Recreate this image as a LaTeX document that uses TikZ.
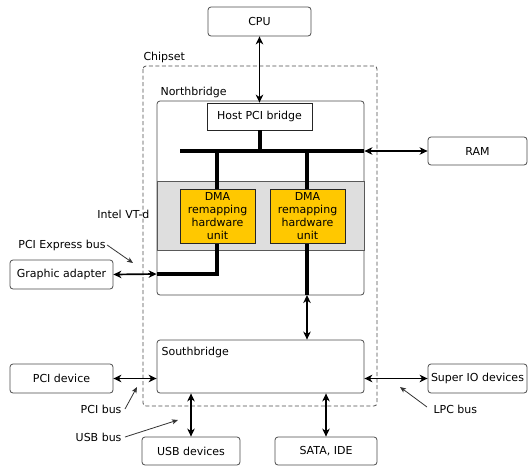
\documentclass[tikz,border=0pt]{standalone}
\usepackage{fontspec}
\setmainfont{DejaVu Sans}
\usetikzlibrary{arrows.meta,calc}
\definecolor{dmafill}{HTML}{FFC800}
\definecolor{bandfill}{HTML}{DEDEDE}

\begin{document}
\begin{tikzpicture}[x=1pt, y=-1pt, >={Stealth[length=8pt, width=7.5pt, inset=2.5pt]},
    font=\fontsize{11}{13}\selectfont,
    box/.style={draw=black!70, line width=0.8pt, rounded corners=3pt, inner sep=0pt, align=center, fill=white},
    plain/.style={draw=black!85, line width=0.8pt, inner sep=0pt, align=center, fill=white},
    dma/.style={plain, fill=dmafill, minimum width=75, minimum height=54},
    port/.style={<->, line width=1.7pt},
    bus/.style={line width=4pt, line join=miter},
    pointer/.style={-{Stealth[length=6pt, width=5pt, inset=1.5pt]}, line width=0.8pt, draw=black!80}]
  \useasboundingbox (0,0) rectangle (528,466);

  % chipset and the two bridges
  \draw[black!70, line width=0.8pt, dash pattern=on 4pt off 2.5pt, rounded corners=3pt] (143,66) rectangle (377,406);
  \node[anchor=west] (chipset) at (140,57) {Chipset};
  \node[box, minimum width=207, minimum height=194] (nb) at (260.5,198) {};
  \node[anchor=west] (nblabel) at (157,92) {Northbridge};
  \node[box, minimum width=207, minimum height=53] (sb) at (260.5,366.5) {};
  \node[anchor=west] (sblabel) at (158,352) {Southbridge};

  % remapping band and internal buses
  \node[plain, draw=black!65, fill=bandfill, minimum width=207, minimum height=69] (band) at (260.5,215.5) {};
  \node[plain, minimum width=105, minimum height=27] (host) at (259.5,116.5) {Host PCI bridge};
  \coordinate (bus-l) at (180,151);
  \coordinate (bus-r) at (nb.east |- bus-l);
  \coordinate (gfx-in) at (nb.west |- 0,274);
  \coordinate (sb-up) at (307,295);
  \draw[bus] (bus-l) -- (bus-r);
  \draw[bus] (host.south) -- (host.south |- bus-l);
  \draw[bus] (217,151) -- (217,274) -- (gfx-in);
  \draw[bus] (307,151) -- (sb-up);
  \node[dma] (dma1) at (217.5,216) {DMA\\remapping\\hardware\\unit};
  \node[dma] (dma2) at (307.5,216) {DMA\\remapping\\hardware\\unit};
  \node[anchor=east] (vtd) at (153,214) {Intel VT-d};

  % outside devices
  \node[box, minimum width=103, minimum height=29] (cpu) at (259.5,21.5) {CPU};
  \node[box, minimum width=99, minimum height=28] (ram) at (477.5,151) {RAM};
  \node[box, minimum width=103, minimum height=29] (gfx) at (61.5,274.5) {Graphic adapter};
  \node[box, minimum width=103, minimum height=29] (pci) at (61.5,378.5) {PCI device};
  \node[box, minimum width=99, minimum height=29] (sio) at (477.5,378.5) {Super IO devices};
  \node[box, minimum width=98, minimum height=28] (usb) at (191,451) {USB devices};
  \node[box, minimum width=102, minimum height=28] (sata) at (326,451) {SATA, IDE};

  % links
  \draw[port] (cpu.south) -- (host.north);
  \draw[port] (bus-r) -- (ram.west);
  \draw[port] (gfx.east) -- (gfx-in);
  \draw[port] (sb-up) -- (sb-up |- sb.north);
  \draw[port] (pci.east) -- (pci.east -| sb.west);
  \draw[port] (sio.west -| sb.east) -- (sio.west);
  \draw[port] (usb.north |- sb.south) -- (usb.north);
  \draw[port] (sata.north |- sb.south) -- (sata.north);

  % bus names
  \node (pcie) at (62,245) {PCI Express bus};
  \node[anchor=east] (pcibus) at (125,409) {PCI bus};
  \node[anchor=east] (usbbus) at (125,437) {USB bus};
  \node[anchor=west] (lpcbus) at (430,409) {LPC bus};
  \coordinate (pcie-tip) at (133,263);
  \coordinate (pci-tip) at (137,387);
  \coordinate (usb-tip) at (178,420);
  \coordinate (lpc-tip) at (400,387);
  \draw[pointer] (pcie.east) ++(-2,0) -- (pcie-tip);
  \draw[pointer] (pcibus.east) -- (pci-tip);
  \draw[pointer] (usbbus.east) -- (usb-tip);
  \draw[pointer] (lpcbus.west) ++(-3,-2) -- (lpc-tip);
\end{tikzpicture}
\end{document}
